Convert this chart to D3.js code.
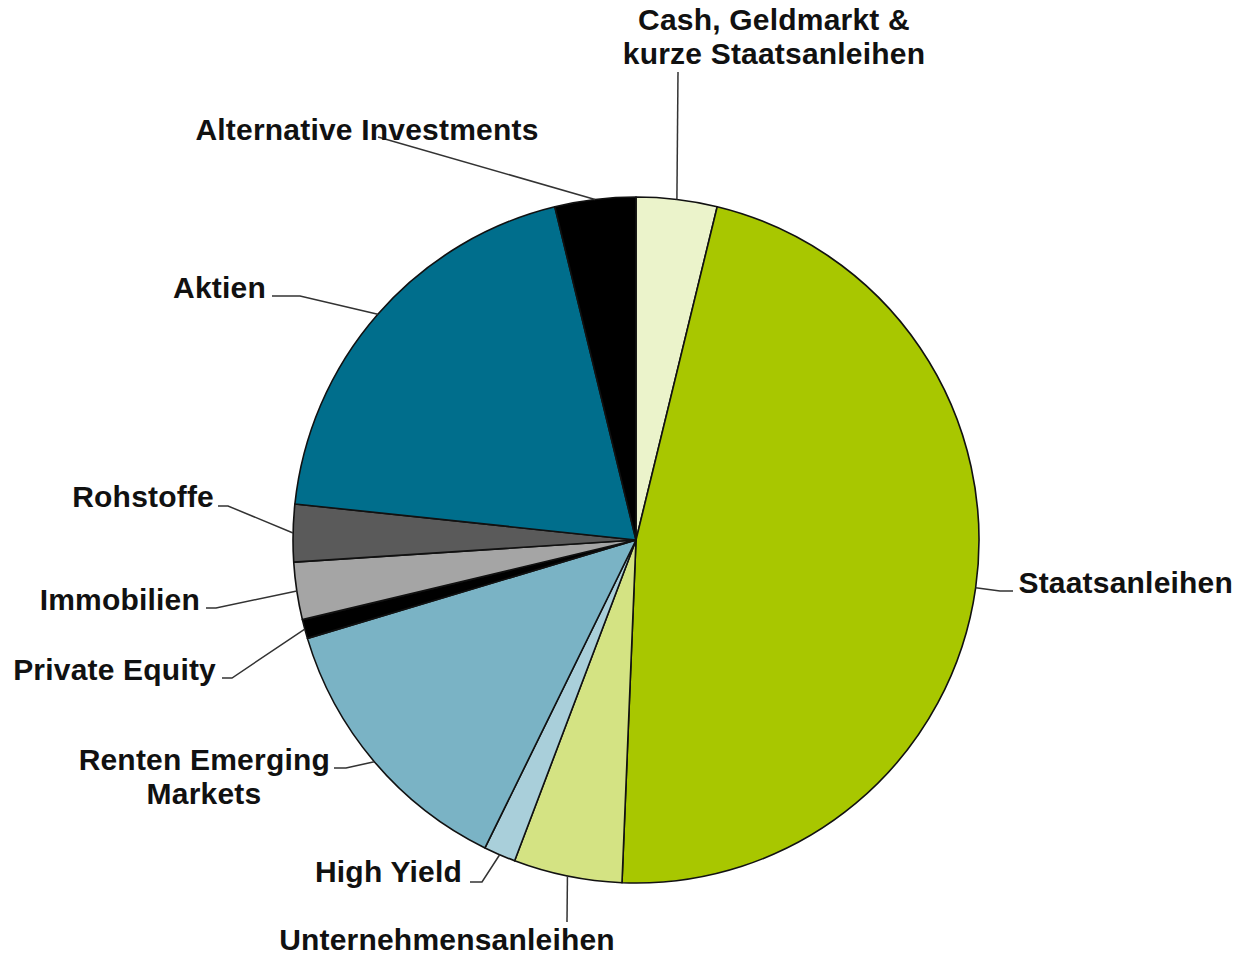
<!DOCTYPE html>
<html><head><meta charset="utf-8">
<script src="https://cdn.jsdelivr.net/npm/d3@7"></script>
<style>body{margin:0;background:#fff}svg{display:block}text{font-family:"Liberation Sans",Arial,sans-serif;font-weight:bold;font-size:30px;letter-spacing:0.2px;fill:#111}</style>
</head><body><svg id="c" width="1237" height="955"></svg>
<script>
const categories = ["Cash, Geldmarkt & kurze Staatsanleihen","Staatsanleihen","Unternehmensanleihen","High Yield","Renten Emerging Markets","Private Equity","Immobilien","Rohstoffe","Aktien","Alternative Investments"];
const values = [3.8, 46.8, 5.1, 1.5, 13.1, 0.9, 2.7, 2.7, 19.5, 3.8];
const colors = ["#EBF3CB","#A8C700","#D4E383","#A9CFDA","#7AB3C5","#000000","#A5A5A5","#5A5A5A","#006E8C","#000000"];
const labelLines = [["Cash, Geldmarkt &","kurze Staatsanleihen"],["Staatsanleihen"],["Unternehmensanleihen"],["High Yield"],["Renten Emerging","Markets"],["Private Equity"],["Immobilien"],["Rohstoffe"],["Aktien"],["Alternative Investments"]];

// label layout: x,y of text anchor (first baseline), anchor, leader elbow
const layout = [
  {x:774,y:30,a:"middle",elbow:[678,72]},
  {x:1233,y:593,a:"end",elbow:[1000,591],start:[1013,591]},
  {x:447,y:950,a:"middle",elbow:[567,922]},
  {x:462,y:882,a:"end",elbow:[482,882],start:[470,882]},
  {x:330,y:770,a:"end",elbow:[346,768],start:[334,768],x2:204},
  {x:216,y:680,a:"end",elbow:[232,678],start:[222,678]},
  {x:200,y:610,a:"end",elbow:[216,608],start:[206,608]},
  {x:214,y:507,a:"end",elbow:[228,506],start:[218,506]},
  {x:266,y:298,a:"end",elbow:[300,296],start:[272,296]},
  {x:367,y:140,a:"middle",elbow:[378,137]}
];

const svg = d3.select("#c");
const cx = 636, cy = 540, R = 343;
const data = categories.map((c,i)=>({c, v:values[i], i}));
const pie = d3.pie().value(d=>d.v).sort(null);
const arcs = pie(data);
const arc = d3.arc().innerRadius(0).outerRadius(R);
const g = svg.append("g").attr("transform",`translate(${cx},${cy})`);
g.selectAll("path").data(arcs).join("path")
  .attr("d",arc).attr("fill",(d,i)=>colors[i])
  .attr("stroke","#111").attr("stroke-width",1.6).attr("stroke-linejoin","round");

// leaders
arcs.forEach((d,i)=>{
  const m = (d.startAngle+d.endAngle)/2;
  const px = cx + R*Math.sin(m), py = cy - R*Math.cos(m);
  const L = layout[i];
  const pts = [];
  if (L.start) pts.push(L.start);
  pts.push(L.elbow);
  pts.push([px,py]);
  svg.append("path").attr("d", d3.line()(pts)).attr("fill","none").attr("stroke","#333").attr("stroke-width",1.5);
});

// labels
labelLines.forEach((lines,i)=>{
  const L = layout[i];
  lines.forEach((t,j)=>{
    let x = L.x, a = L.a;
    if (j>0 && L.x2!==undefined){ x = L.x2; a = "middle"; }
    svg.append("text").attr("x",x).attr("y",L.y + j*34).attr("text-anchor",a).text(t);
  });
});
</script></body></html>
